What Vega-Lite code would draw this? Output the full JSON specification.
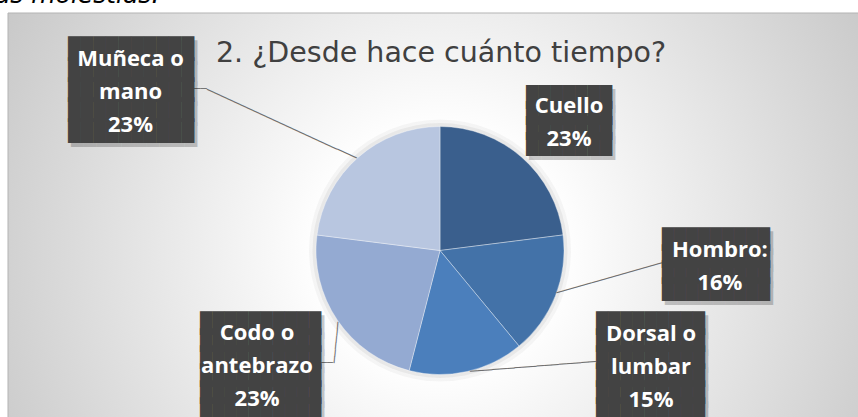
{
  "$schema": "https://vega.github.io/schema/vega-lite/v6.json",
  "width": 864,
  "height": 475,
  "autosize": {"type": "none"},
  "padding": {"left": 8, "top": 13, "right": -14, "bottom": -71},
  "background": "#ffffff",
  "config": {"view": {"stroke": null}},
  "title": {"text": "las molestias.", "anchor": "start", "font": "DejaVu Sans", "fontSize": 25, "fontStyle": "italic", "fontWeight": "normal", "color": "#000000", "offset": 5, "dx": -19.5},
  "layer": [
    {
      "data": {"values": [{"fondo": 1}]},
      "mark": {"type": "rect", "fill": {"gradient": "radial", "x1": 0.5, "y1": 0.5, "r1": 0, "x2": 0.5, "y2": 0.5, "r2": 0.6, "stops": [{"offset": 0, "color": "#ffffff"}, {"offset": 0.23, "color": "#ffffff"}, {"offset": 1, "color": "#c5c5c5"}]}, "stroke": "#b3b3b3", "strokeWidth": 1},
      "encoding": {}
    },
    {
      "data": {"values": [{"titulo": "2. ¿Desde hace cuánto tiempo?"}]},
      "mark": {"type": "text", "font": "DejaVu Sans", "fontSize": 28.5, "color": "#404040", "align": "center", "baseline": "alphabetic", "dx": 1, "dy": -188.8},
      "encoding": {"text": {"field": "titulo"}}
    },
    {
      "data": {"values": [
        {"zona": "Cuello", "rotulo": "Cuello", "valor": 23, "orden": 1},
        {"zona": "Hombro", "rotulo": "Hombro:", "valor": 16, "orden": 2},
        {"zona": "Dorsal o lumbar", "rotulo": "Dorsal o\nlumbar", "valor": 15, "orden": 3},
        {"zona": "Codo o antebrazo", "rotulo": "Codo o\nantebrazo", "valor": 23, "orden": 4},
        {"zona": "Muñeca o mano", "rotulo": "Muñeca o\nmano", "valor": 23, "orden": 5}
      ]},
      "transform": [
        {"window": [{"op": "sum", "field": "valor", "as": "acum"}], "sort": [{"field": "orden"}], "frame": [null, 0]},
        {"calculate": "datum.acum - datum.valor / 2", "as": "medio"},
        {"calculate": "datum.rotulo + '\\n' + datum.valor + '%'", "as": "etiqueta"}
      ],
      "layer": [
        {
          "transform": [{"aggregate": [{"op": "sum", "field": "valor", "as": "total"}]}],
          "mark": {"type": "arc", "radius": 131, "color": "#000000", "opacity": 0.035},
          "encoding": {"theta": {"field": "total", "type": "quantitative", "scale": {"domain": [0, 100]}}}
        },
        {
          "transform": [{"aggregate": [{"op": "sum", "field": "valor", "as": "total"}]}],
          "mark": {"type": "arc", "radius": 127.5, "color": "#000000", "opacity": 0.05},
          "encoding": {"theta": {"field": "total", "type": "quantitative", "scale": {"domain": [0, 100]}}}
        },
        {
          "mark": {"type": "arc", "radius": 124, "stroke": "#ffffff", "strokeWidth": 0.6, "strokeOpacity": 0.6},
          "encoding": {
            "theta": {"field": "valor", "type": "quantitative", "stack": true, "scale": {"domain": [0, 100]}},
            "order": {"field": "orden"},
            "color": {"field": "zona", "type": "nominal", "legend": null, "scale": {"domain": ["Cuello", "Hombro", "Dorsal o lumbar", "Codo o antebrazo", "Muñeca o mano"], "range": ["#3a5f8d", "#4372a8", "#4b7fbc", "#94aad2", "#b8c6e0"]}}
          }
        },
        {
          "encoding": {"theta": {"field": "medio", "type": "quantitative", "stack": null, "scale": {"domain": [0, 100]}}, "radius": {"value": 220}},
          "layer": [
            {
              "transform": [{"filter": "datum.orden == 1"}],
              "layer": [
                {"mark": {"type": "text", "text": "███████\n███████\n███████\n███████", "font": "DejaVu Sans Mono", "fontSize": 20.4, "lineHeight": 15.75, "lineBreak": "\n", "align": "center", "baseline": "middle", "color": "#000000", "opacity": 0.2, "dx": -13.5, "dy": 16.4}},
                {"mark": {"type": "text", "text": "███████\n███████\n███████\n███████", "font": "DejaVu Sans Mono", "fontSize": 20.4, "lineHeight": 15.75, "lineBreak": "\n", "align": "center", "baseline": "middle", "color": "#434343", "dx": -16.5, "dy": 12.4}},
                {"mark": {"type": "text", "font": "Open Sans", "fontWeight": "bold", "fontSize": 22, "lineHeight": 33, "lineBreak": "\n", "align": "center", "baseline": "middle", "color": "#ffffff", "dx": -16.5, "dy": 21}, "encoding": {"text": {"field": "etiqueta"}}}
              ]
            },
            {
              "transform": [{"filter": "datum.orden == 2"}],
              "layer": [
                {"mark": {"type": "text", "text": "───────────────", "font": "DejaVu Sans Mono", "fontSize": 12.13, "align": "center", "baseline": "middle", "color": "#6f6f6f", "angle": 344.1, "dx": -19.2, "dy": -61.1}},
                {"mark": {"type": "text", "text": "█████████\n█████████\n█████████\n█████████", "font": "DejaVu Sans Mono", "fontSize": 19.93, "lineHeight": 16.9, "lineBreak": "\n", "align": "center", "baseline": "middle", "color": "#000000", "opacity": 0.2, "dx": 74.4, "dy": -87.85}},
                {"mark": {"type": "text", "text": "█████████\n█████████\n█████████\n█████████", "font": "DejaVu Sans Mono", "fontSize": 19.93, "lineHeight": 16.9, "lineBreak": "\n", "align": "center", "baseline": "middle", "color": "#434343", "dx": 71.4, "dy": -91.85}},
                {"mark": {"type": "text", "font": "Open Sans", "fontWeight": "bold", "fontSize": 22, "lineHeight": 33, "lineBreak": "\n", "align": "center", "baseline": "middle", "color": "#ffffff", "dx": 75.4, "dy": -81}, "encoding": {"text": {"field": "etiqueta"}}}
              ]
            },
            {
              "transform": [{"filter": "datum.orden == 3"}],
              "layer": [
                {"mark": {"type": "text", "text": "─────────────────", "font": "DejaVu Sans Mono", "fontSize": 12.35, "align": "center", "baseline": "middle", "color": "#6f6f6f", "angle": 355.5, "dx": 52.6, "dy": -94.7}},
                {"mark": {"type": "text", "text": "█████████\n█████████\n█████████\n█████████\n█████████\n█████████", "font": "DejaVu Sans Mono", "fontSize": 20.12, "lineHeight": 17.3, "lineBreak": "\n", "align": "center", "baseline": "middle", "color": "#000000", "opacity": 0.2, "dx": 165.5, "dy": -137.45}},
                {"mark": {"type": "text", "text": "█████████\n█████████\n█████████\n█████████\n█████████\n█████████", "font": "DejaVu Sans Mono", "fontSize": 20.12, "lineHeight": 17.3, "lineBreak": "\n", "align": "center", "baseline": "middle", "color": "#434343", "dx": 162.5, "dy": -141.45}},
                {"mark": {"type": "text", "font": "Open Sans", "fontWeight": "bold", "fontSize": 22, "lineHeight": 33, "lineBreak": "\n", "align": "center", "baseline": "middle", "color": "#ffffff", "dx": 163, "dy": -131.2}, "encoding": {"text": {"field": "etiqueta"}}}
              ]
            },
            {
              "transform": [{"filter": "datum.orden == 4"}],
              "layer": [
                {"mark": {"type": "text", "text": "──────", "font": "DejaVu Sans Mono", "fontSize": 11.49, "align": "center", "baseline": "middle", "color": "#6f6f6f", "angle": 95.5, "dx": -39.0, "dy": -73.6}},
                {"mark": {"type": "text", "text": "──", "font": "DejaVu Sans Mono", "fontSize": 9.97, "align": "center", "baseline": "middle", "color": "#6f6f6f", "dx": 69, "dy": -11.2}},
                {"mark": {"type": "text", "text": "██████████\n██████████\n██████████\n██████████\n██████████\n██████████", "font": "DejaVu Sans Mono", "fontSize": 20.1, "lineHeight": 17.3, "lineBreak": "\n", "align": "center", "baseline": "middle", "color": "#000000", "opacity": 0.2, "dx": 5.5, "dy": -46.45}},
                {"mark": {"type": "text", "text": "██████████\n██████████\n██████████\n██████████\n██████████\n██████████", "font": "DejaVu Sans Mono", "fontSize": 20.1, "lineHeight": 17.3, "lineBreak": "\n", "align": "center", "baseline": "middle", "color": "#434343", "dx": 2.5, "dy": -50.45}},
                {"mark": {"type": "text", "font": "Open Sans", "fontWeight": "bold", "fontSize": 22, "lineHeight": 33, "lineBreak": "\n", "align": "center", "baseline": "middle", "color": "#ffffff", "dx": -1, "dy": -41.2}, "encoding": {"text": {"field": "etiqueta"}}}
              ]
            },
            {
              "transform": [{"filter": "datum.orden == 5"}],
              "layer": [
                {"mark": {"type": "text", "text": "───────────────────────", "font": "DejaVu Sans Mono", "fontSize": 11.92, "align": "center", "baseline": "middle", "color": "#6f6f6f", "angle": 24.7, "dx": 4.37, "dy": 40.15}},
                {"mark": {"type": "text", "text": "──", "font": "DejaVu Sans Mono", "fontSize": 10.5, "align": "center", "baseline": "middle", "color": "#6f6f6f", "dx": -94.1, "dy": 3.8}},
                {"mark": {"type": "text", "text": "██████████\n██████████\n██████████\n██████████\n██████████", "font": "DejaVu Sans Mono", "fontSize": 20.93, "lineHeight": 20.4, "lineBreak": "\n", "align": "center", "baseline": "middle", "color": "#000000", "opacity": 0.2, "dx": -160.5, "dy": -31.3}},
                {"mark": {"type": "text", "text": "██████████\n██████████\n██████████\n██████████\n██████████", "font": "DejaVu Sans Mono", "fontSize": 20.93, "lineHeight": 20.4, "lineBreak": "\n", "align": "center", "baseline": "middle", "color": "#434343", "dx": -163.5, "dy": -35.3}},
                {"mark": {"type": "text", "font": "Open Sans", "fontWeight": "bold", "fontSize": 22, "lineHeight": 33, "lineBreak": "\n", "align": "center", "baseline": "middle", "color": "#ffffff", "dx": -164, "dy": -26.5}, "encoding": {"text": {"field": "etiqueta"}}}
              ]
            }
          ]
        }
      ]
    }
  ]
}
